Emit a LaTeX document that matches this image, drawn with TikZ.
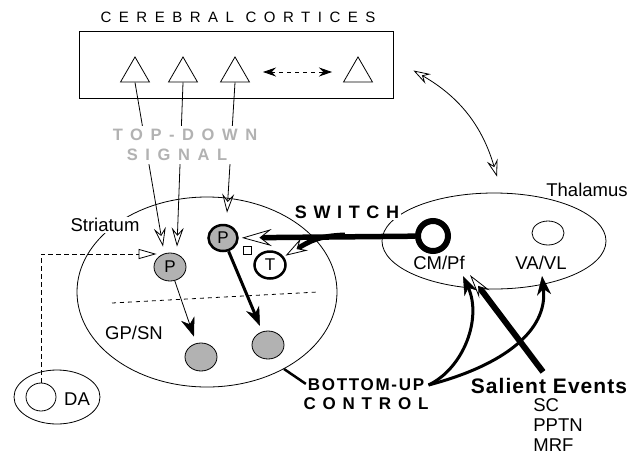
\documentclass[tikz,border=0pt]{standalone}
\usepackage{fontspec}
\setmainfont{Liberation Sans}
\usetikzlibrary{positioning,arrows.meta,shapes.geometric}

\begin{document}
\begin{tikzpicture}[x=1pt,y=1pt,line width=0.8pt]
		\tikzstyle{every node}+=[inner sep=0pt, font=\fontsize{18.5}{20}\selectfont]
		\tikzstyle{pyr}=[regular polygon, regular polygon sides=3, draw, minimum size=33.5pt]
		\tikzstyle{cell}=[ellipse, draw, fill=black!30, minimum width=32pt, minimum height=28pt]
		\tikzstyle{hollowhead}=[-{Stealth[open,fill=white,length=19pt,width=12pt,inset=7pt,line width=0.8pt]}]
		\tikzstyle{bighollow}=[-{Stealth[open,fill=white,length=30pt,width=17pt,inset=11pt,line width=0.8pt]}]
		\tikzstyle{midhollow}=[-{Stealth[open,fill=white,length=22pt,width=14pt,inset=8pt,line width=0.8pt]}]
		\tikzstyle{salhead}=[-{Stealth[open,fill=white,length=24pt,width=13pt,inset=9pt,line width=0.8pt]}]
		\tikzstyle{blackhead}=[-{Stealth[length=19pt,width=14pt,inset=6pt,line width=0.5pt]}]
		\tikzstyle{trihead}=[-{Triangle[open,fill=white,length=18pt,width=10pt,line width=0.8pt]}]
		\useasboundingbox (0,0) rectangle (642,-456);
		\node [font=\fontsize{15}{17}\selectfont\addfontfeature{LetterSpace=50}] (title) at (238,-17) {CEREBRAL CORTICES};
		\node [draw, minimum width=314pt, minimum height=67pt] (cortex) at (236,-64.5) {};
		\node [pyr] (c1) at (135,-73.7) {};
		\node [pyr] (c2) at (183,-73.7) {};
		\node [pyr] (c3) at (235,-73.7) {};
		\node [pyr] (c4) at (358,-73.7) {};
		\coordinate (cl) at (263,-72);
		\coordinate (cr) at (332,-72);
		\draw [dash pattern=on 4pt off 4pt, {Stealth[length=13pt,width=9pt]}-{Stealth[length=13pt,width=9pt]}] (cl) -- (cr);
		\node [ellipse, draw, minimum width=260pt, minimum height=190pt] (str) at (207,-292) {};
		\node [fill=white, inner sep=1pt] (strlab) at (105,-225) {Striatum};
		\draw [dash pattern=on 4pt off 4pt] (112,-303) -- (318,-292);
		\node [cell] (p1) at (170,-267) {\fontsize{17}{20}\selectfont P};
		\node [cell, line width=2.5pt, minimum width=29pt, minimum height=26pt] (p2) at (223,-238) {\fontsize{17}{20}\selectfont P};
		\node [ellipse, draw, line width=2.5pt, fill=white, minimum width=31pt, minimum height=27pt] (t) at (270,-265) {\fontsize{17}{20}\selectfont T};
		\node [draw, minimum size=8pt] (sq) at (247,-250) {};
		\node [cell] (g1) at (201,-357) {};
		\node [cell] (g2) at (268,-345) {};
		\node (gpsn) at (134,-333) {GP/SN};
		\draw [blackhead, shorten >=7pt] (p1) -- (g1);
		\draw [blackhead, line width=3pt, shorten >=6pt] (p2) -- (g2);
		\draw [hollowhead] (c1.south) -- ([xshift=-7pt,yshift=6pt]p1.north);
		\draw [hollowhead] (c2.south) -- ([xshift=7pt,yshift=6pt]p1.north);
		\draw [hollowhead] (c3.south) -- ([xshift=4pt,yshift=11pt]p2.north);
		\node [fill=white, inner sep=3pt, align=center, text=black!30, font=\bfseries\fontsize{16.5}{20}\selectfont\addfontfeature{LetterSpace=46}] (topdown) at (185,-145) {TOP-DOWN\\SIGNAL\hspace*{16pt}};
		\node [ellipse, draw, minimum width=224pt, minimum height=96pt] (thal) at (494,-241) {};
		\node [fill=white, inner sep=1pt] (thallab) at (587,-190) {Thalamus};
		\node [circle, draw, line width=6pt, minimum size=30pt] (cm) at (433,-236) {};
		\node [ellipse, draw, minimum width=32pt, minimum height=24pt] (vavl) at (548,-233) {};
		\node (cmlab) at (439,-263) {CM/Pf};
		\node (vavllab) at (541,-263) {VA/VL};
		\draw [bighollow, line width=5.5pt, shorten >=3pt] (cm) -- (p2);
		\coordinate (fork) at (345,-235);
		\draw [midhollow, line width=5pt, shorten >=2pt] (fork) .. controls (318,-236) and (310,-241) .. (t);
		\node [fill=white, inner sep=2pt, font=\bfseries\fontsize{18}{20}\selectfont\addfontfeature{LetterSpace=37}] (switch) at (347,-212) {SWITCH};
		\draw [bend left=22, {Stealth[open,fill=white,length=17pt,width=11pt,inset=6pt,line width=0.8pt]}-{Stealth[open,fill=white,length=17pt,width=11pt,inset=6pt,line width=0.8pt]}] ([xshift=20pt,yshift=-6pt]cortex.east) to ([xshift=3pt,yshift=16pt]thal.north);
		\node [ellipse, draw, minimum width=86pt, minimum height=54pt] (da) at (57,-397) {};
		\node [ellipse, draw, minimum width=30pt, minimum height=28pt] (dacore) at (41,-397) {};
		\node (dalab) at (77,-399) {DA};
		\draw [trihead, dash pattern=on 5pt off 3pt] (dacore.north) |- ([xshift=3pt,yshift=13pt]p1.west);
		\node [font=\bfseries\fontsize{17}{20}\selectfont\addfontfeature{LetterSpace=10}] (bu) at (366,-385) {BOTTOM-UP};
		\node [font=\bfseries\fontsize{17}{20}\selectfont\addfontfeature{LetterSpace=40}] (ctrl) at (366,-404) {CONTROL};
		\draw [line width=2.5pt, shorten >=2pt] (str.-45) -- (bu.west);
		\coordinate (cmin) at (463,-276);
		\coordinate (vain) at (542,-276);
		\draw [blackhead, line width=3pt] ([xshift=4pt]bu.east) .. controls (464,-368) and (482,-318) .. (cmin);
		\draw [blackhead, line width=3pt] ([xshift=4pt]bu.east) .. controls (505,-365) and (548,-330) .. (vain);
		\node [font=\bfseries\fontsize{21}{24}\selectfont\addfontfeature{LetterSpace=5}] (sal) at (549,-386) {Salient Events};
		\coordinate (salin) at (470,-275);
		\draw [salhead, line width=6pt] ([xshift=-6pt,yshift=6pt]sal.north) -- (salin);
		\node [anchor=west, align=left] (subs) at (533,-425) {SC\\PPTN\\MRF};
\end{tikzpicture}
\end{document}
